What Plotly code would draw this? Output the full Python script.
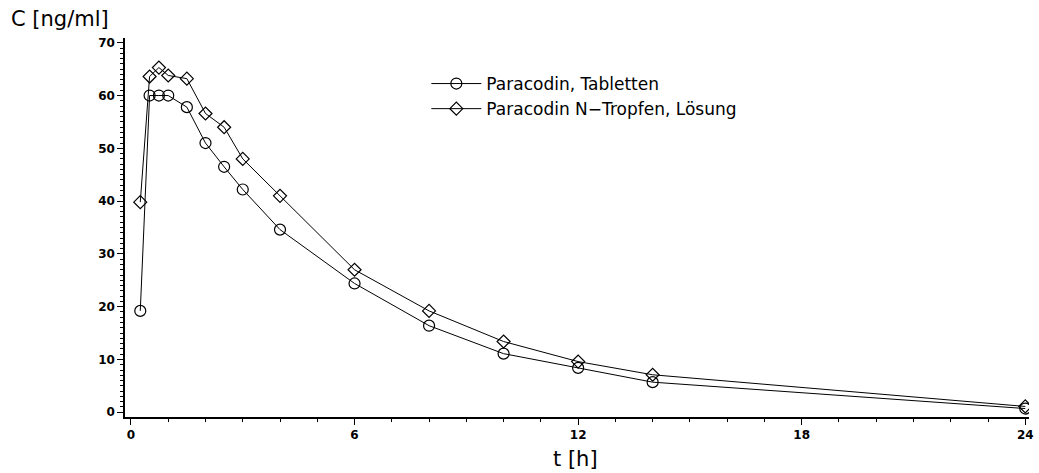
import plotly.graph_objects as go

t_hours = [0.25, 0.5, 0.75, 1, 1.5, 2, 2.5, 3, 4, 6, 8, 10, 12, 14, 24]
tabletten = [19.2, 60.0, 60.0, 60.0, 57.8, 51.0, 46.5, 42.2, 34.6, 24.4, 16.4, 11.1, 8.4, 5.7, 0.7]
tropfen = [39.8, 63.6, 65.3, 63.8, 63.2, 56.6, 54.0, 48.0, 41.0, 27.0, 19.2, 13.4, 9.6, 7.1, 1.1]
series_names = ["Paracodin, Tabletten", "Paracodin N\u2212Tropfen, Lösung"]
x_ticks = [0, 6, 12, 18, 24]
y_ticks = [0, 10, 20, 30, 40, 50, 60, 70]

FONT = "DejaVu Sans"

W, H = 1039, 473
L, R, T, B = 125, 5, 38, 56
pw = W - L - R
ph = H - T - B

fig = go.Figure()
fig.add_trace(go.Scatter(
    x=t_hours, y=tabletten, name=series_names[0], mode="lines+markers",
    line=dict(color="black", width=1),
    marker=dict(symbol="circle-open", size=11, color="black", line=dict(width=1.2)),
))
fig.add_trace(go.Scatter(
    x=t_hours, y=tropfen, name=series_names[1], mode="lines+markers",
    line=dict(color="black", width=1),
    marker=dict(symbol="diamond-open", size=10, color="black", line=dict(width=1.2)),
))

tickfont = dict(size=12, family=FONT, color="black", weight="bold")

fig.update_layout(
    width=W, height=H, autosize=False,
    paper_bgcolor="white", plot_bgcolor="white",
    margin=dict(l=L, r=R, t=T, b=B),
    font=dict(family=FONT, color="black"),
    legend=dict(
        x=(428 - L) / pw, y=(H - B - 66) / ph, xanchor="left", yanchor="top",
        font=dict(size=17, family=FONT, color="black"),
        bgcolor="rgba(0,0,0,0)", itemwidth=50, tracegroupgap=0,
    ),
    xaxis=dict(
        range=[-0.16, 24.1], showgrid=False, zeroline=False,
        showline=True, linecolor="black", linewidth=1.5,
        tickmode="array", tickvals=x_ticks, ticks="outside", ticklen=6,
        tickcolor="black", tickwidth=1, tickfont=tickfont,
        minor=dict(dtick=1, ticks="outside", ticklen=3, tickcolor="black", tickwidth=1),
    ),
    yaxis=dict(
        range=[-0.9, 70.9], showgrid=False, zeroline=False,
        showline=True, linecolor="black", linewidth=1.5,
        tickmode="array", tickvals=y_ticks, ticks="outside", ticklen=6,
        tickcolor="black", tickwidth=1, tickfont=tickfont,
        minor=dict(dtick=1, ticks="outside", ticklen=3, tickcolor="black", tickwidth=1),
    ),
    annotations=[
        dict(text="C [ng/ml]", xref="paper", yref="paper",
             x=(8 - L) / pw, y=(H - B - 19) / ph, xanchor="left", yanchor="middle",
             showarrow=False, font=dict(size=21, family=FONT, color="black")),
        dict(text="t [h]", xref="paper", yref="paper",
             x=(578 - L) / pw, y=-(459 - (H - B)) / ph, xanchor="center", yanchor="middle",
             showarrow=False, font=dict(size=21, family=FONT, color="black")),
    ],
)

fig.write_html(
    "out.html",
    config={"displayModeBar": False, "responsive": False},
    post_script="document.documentElement.style.overflow='hidden';"
                "document.body.style.margin='0';document.body.style.overflow='hidden';",
)
